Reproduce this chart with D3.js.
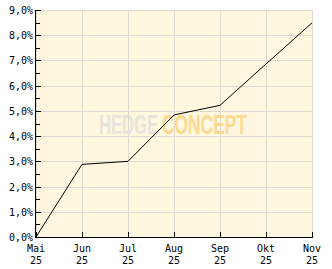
<!DOCTYPE html>
<html><head><meta charset="utf-8">
<script src="https://cdn.jsdelivr.net/npm/d3@7"></script>
<style>html,body{margin:0;padding:0;background:#fff;}svg{display:block;}</style>
</head><body>
<script>
const months = ["Mai","Jun","Jul","Aug","Sep","Okt","Nov"];
const years = ["25","25","25","25","25","25","25"];
const values = [0, 2.88, 3.0, 4.84, 5.22, 6.86, 8.49];
const yTicks = [0,1,2,3,4,5,6,7,8,9];
const yMinor = [0.5,1.5,2.5,3.5,4.5,5.5,6.5,7.5,8.5];

const W = 332, H = 269;
const m = {l:36, r:20, t:10, b:32};
const svg = d3.select("body").append("svg").attr("width",W).attr("height",H);
const x = d3.scalePoint().domain(d3.range(months.length)).range([m.l, W-m.r]);
const y = d3.scaleLinear().domain([0,9]).range([H-m.b, m.t]);
const font = "DejaVu Sans Mono";

svg.append("rect").attr("x",m.l).attr("y",m.t).attr("width",W-m.r-m.l).attr("height",H-m.b-m.t).attr("fill","#fff7df");

// grid
const g = svg.append("g").attr("stroke","#dedad0").attr("stroke-width",1).attr("shape-rendering","crispEdges");
yTicks.forEach(v=>g.append("line").attr("x1",m.l).attr("x2",W-m.r).attr("y1",y(v)+0.5).attr("y2",y(v)+0.5));
d3.range(months.length).forEach(i=>g.append("line").attr("x1",x(i)+0.5).attr("x2",x(i)+0.5).attr("y1",m.t).attr("y2",H-m.b));

// watermark
function wmText(str, x0, w, fill){
  const gg = svg.append("g").attr("opacity",0.85);
  const t = gg.append("text").attr("x",0).attr("y",0).attr("font-family","Liberation Sans, Arial")
    .attr("font-weight","bold").attr("font-size",27).attr("fill",fill).text(str);
  const nat = t.node().getComputedTextLength();
  gg.attr("transform",`translate(${x0},134) scale(${w/nat},1)`);
}
wmText("HEDGE", 99, 59, "#e4e1da");
wmText("CONCEPT", 162, 85, "#fdd587");

// line
svg.append("path").datum(values).attr("fill","none").attr("stroke","#000").attr("stroke-width",1)
  .attr("d", d3.line().x((d,i)=>x(i)).y(d=>y(d)));

// axes
const ax = svg.append("g").attr("stroke","#000").attr("shape-rendering","crispEdges");
ax.append("line").attr("x1",m.l-0.5).attr("x2",m.l-0.5).attr("y1",m.t).attr("y2",H-m.b+0.5);
ax.append("line").attr("x1",m.l-0.5).attr("x2",W-m.r+0.5).attr("y1",H-m.b+0.5).attr("y2",H-m.b+0.5);
yTicks.forEach(v=>ax.append("line").attr("x1",m.l).attr("x2",m.l+5).attr("y1",y(v)+0.5).attr("y2",y(v)+0.5));
yMinor.forEach(v=>ax.append("line").attr("x1",m.l).attr("x2",m.l+4).attr("y1",Math.round(y(v))+0.5).attr("y2",Math.round(y(v))+0.5));
d3.range(months.length).forEach(i=>ax.append("line").attr("x1",x(i)+0.5).attr("x2",x(i)+0.5).attr("y1",H-m.b-5).attr("y2",H-m.b));

const fmt = v => v.toFixed(1).replace(".",",")+"%";
yTicks.forEach(v=>svg.append("text").attr("x",m.l-3).attr("y",y(v)+4).attr("text-anchor","end")
  .attr("font-family",font).attr("font-size",10).attr("fill","#000").text(fmt(v)));
months.forEach((mo,i)=>{
  svg.append("text").attr("x",x(i)).attr("y",H-m.b+15).attr("text-anchor","middle").attr("font-family",font).attr("font-size",10).text(mo);
  svg.append("text").attr("x",x(i)).attr("y",H-m.b+27).attr("text-anchor","middle").attr("font-family",font).attr("font-size",10).text(years[i]);
});
</script>
</body></html>
